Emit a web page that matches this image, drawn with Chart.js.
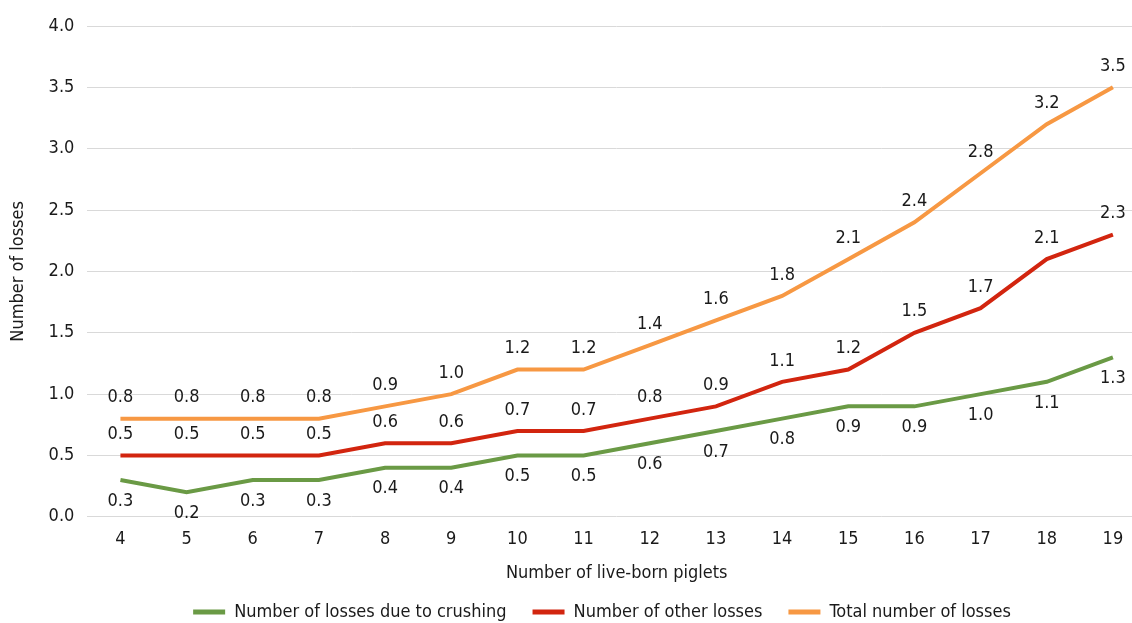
<!DOCTYPE html>
<html>
<head>
<meta charset="utf-8">
<script src="https://cdn.jsdelivr.net/npm/chart.js@4"></script>
<style>
  html, body { margin: 0; padding: 0; background: #ffffff; overflow: hidden; width: 1132px; height: 623px; }
  #wrap { position: absolute; left: 0; top: 0; width: 1146px; height: 647px; }
</style>
</head>
<body>
<div id="wrap"><canvas id="c" width="1146" height="647"></canvas></div>
<script>
const categories = ["4","5","6","7","8","9","10","11","12","13","14","15","16","17","18","19"];
const crushing = [0.3,0.2,0.3,0.3,0.4,0.4,0.5,0.5,0.6,0.7,0.8,0.9,0.9,1.0,1.1,1.3];
const otherLosses = [0.5,0.5,0.5,0.5,0.6,0.6,0.7,0.7,0.8,0.9,1.1,1.2,1.5,1.7,2.1,2.3];
const totalLosses = [0.8,0.8,0.8,0.8,0.9,1.0,1.2,1.2,1.4,1.6,1.8,2.1,2.4,2.8,3.2,3.5];
const seriesNames = ["Number of losses due to crushing","Number of other losses","Total number of losses"];
const xTitle = "Number of live-born piglets";
const yTitle = "Number of losses";

const FONT = '"Liberation Sans Narrow", "DejaVu Sans Condensed", "Roboto Condensed", sans-serif';
const TXT = '#1a1a1a';
const colors = ['#6a9a45', '#d2250f', '#f79843'];
const labelSide = [1, -1, -1]; // below for crushing, above for others

const dataLabels = {
  id: 'dataLabels',
  afterDatasetsDraw(chart) {
    const ctx = chart.ctx;
    ctx.save();
    ctx.font = '18px ' + FONT;
    ctx.fillStyle = TXT;
    ctx.textAlign = 'center';
    ctx.textBaseline = 'middle';
    chart.data.datasets.forEach((ds, i) => {
      const meta = chart.getDatasetMeta(i);
      meta.data.forEach((pt, j) => {
        ctx.fillText(ds.data[j].toFixed(1), pt.x, pt.y + labelSide[i] * 21);
      });
    });
    ctx.restore();
  }
};

const legendShift = {
  id: 'legendShift',
  afterLayout(chart) {
    const lg = chart.legend;
    if (lg) { lg.left += 27; lg.right += 27; lg.top -= 16; lg.bottom -= 16; }
  }
};

new Chart(document.getElementById('c'), {
  type: 'line',
  data: {
    labels: categories,
    datasets: [
      { label: seriesNames[0], data: crushing, borderColor: colors[0], backgroundColor: colors[0] },
      { label: seriesNames[1], data: otherLosses, borderColor: colors[1], backgroundColor: colors[1] },
      { label: seriesNames[2], data: totalLosses, borderColor: colors[2], backgroundColor: colors[2] }
    ]
  },
  options: {
    responsive: false,
    animation: false,
    devicePixelRatio: 1,
    layout: { padding: { top: 26, left: 4, right: 0, bottom: 0 } },
    elements: {
      line: { borderWidth: 4, tension: 0, borderCapStyle: 'butt' },
      point: { radius: 0, hoverRadius: 0 }
    },
    plugins: {
      tooltip: { enabled: false },
      legend: {
        position: 'bottom',
        labels: {
          font: { family: FONT, size: 18 },
          color: TXT,
          boxWidth: 32,
          boxHeight: 5,
          padding: 26,
          generateLabels(chart) {
            return Chart.defaults.plugins.legend.labels.generateLabels(chart).map(l => {
              l.lineWidth = 0; l.fillStyle = colors[l.datasetIndex]; l.strokeStyle = colors[l.datasetIndex];
              return l;
            });
          }
        }
      }
    },
    scales: {
      x: {
        offset: true,
        grid: { display: false, drawTicks: false },
        border: { display: false },
        ticks: { font: { family: FONT, size: 18 }, color: TXT, padding: 12, maxRotation: 0 },
        title: { display: true, text: xTitle, font: { family: FONT, size: 18 }, color: TXT, padding: { top: 0, bottom: 9 } }
      },
      y: {
        min: 0, max: 4,
        grid: { color: '#d9d9d9', lineWidth: 1, drawTicks: false },
        border: { display: false },
        ticks: { stepSize: 0.5, font: { family: FONT, size: 18 }, color: TXT, padding: 13,
                 callback: v => Number(v).toFixed(1) },
        title: { display: true, text: yTitle, font: { family: FONT, size: 18 }, color: TXT, padding: { top: 4, bottom: 6 } }
      }
    }
  },
  plugins: [dataLabels, legendShift]
});
</script>
</body>
</html>
